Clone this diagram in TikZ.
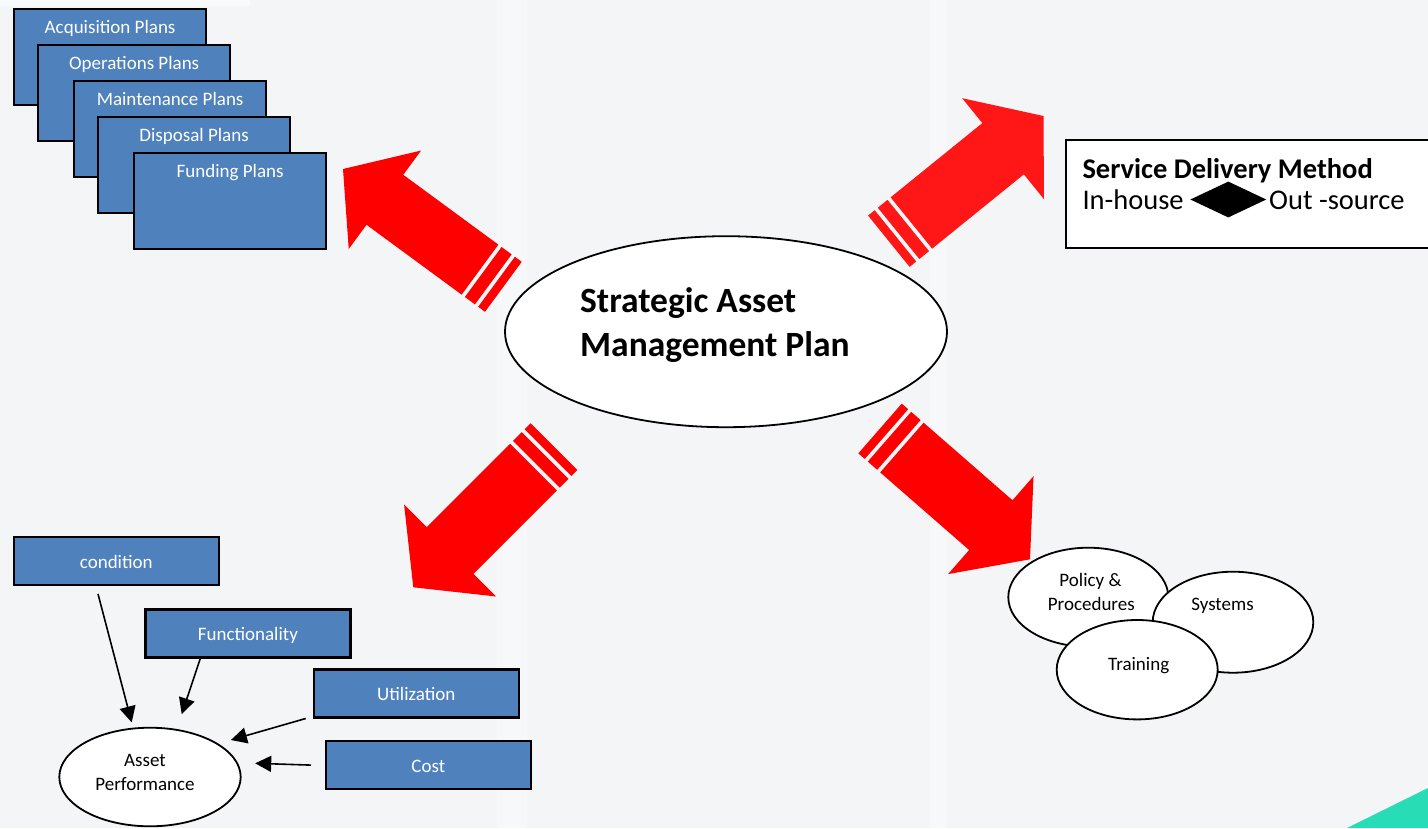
\documentclass[tikz,border=0pt]{standalone}
\usepackage{fontspec}
\setmainfont{Carlito}
\usetikzlibrary{arrows.meta,shapes.geometric}
\definecolor{bgcol}{RGB}{243,245,247}
\definecolor{boxblue}{RGB}{79,129,189}
\definecolor{arrowred}{RGB}{255,0,0}
\definecolor{arrowred2}{RGB}{255,22,22}
\definecolor{teal}{RGB}{40,221,181}
\begin{document}
\begin{tikzpicture}[x=1pt,y=-1pt,
  planbox/.style={draw=black, line width=2.2pt, fill=boxblue, inner sep=0,
    minimum width=192pt, minimum height=96pt, anchor=north west},
  ptext/.style={text=white, font=\fontsize{19}{23}\selectfont, inner sep=0, anchor=base},
  smallbox/.style={draw=black, line width=2.2pt, fill=boxblue, inner sep=0,
    minimum width=205pt, minimum height=48pt, anchor=north west,
    text=white, font=\fontsize{19}{23}\selectfont, text height=14pt, text depth=0pt},
  oval/.style={ellipse, draw=black, line width=1.8pt, fill=white, inner sep=0},
  otext/.style={font=\fontsize{19}{23}\selectfont, inner sep=0, anchor=base},
  pa/.style={line width=1.6pt, -{Triangle[length=16pt,width=16pt]}},
  redarrow/.pic={
    \fill[pic actions] (0,0) -- (-52,65) -- (-52,33) -- (-170,33) -- (-170,-33)
      -- (-52,-33) -- (-52,-65) -- cycle;
    \fill[pic actions] (-174,33) rectangle (-186.5,-33);
    \fill[pic actions] (-190.5,33) rectangle (-199,-33);
  }
]
\useasboundingbox (0,0) rectangle (1428,828);
% background
\fill[bgcol] (0,0) rectangle (1428,828);
\fill[white, opacity=0.3] (497,0) rectangle (527,828);
\fill[white, opacity=0.3] (930,0) rectangle (947,828);
\fill[white, opacity=0.5] (0,0) rectangle (250,6);
\fill[teal] (1347,828) -- (1428,788) -- (1428,828) -- cycle;

% stacked plan boxes
\node[planbox] (acq) at (13,8) {};
\node[ptext] at ([yshift=-25pt]acq.north) {Acquisition Plans};
\node[planbox] (ops) at (37,44) {};
\node[ptext] at ([yshift=-25pt]ops.north) {Operations Plans};
\node[planbox] (mnt) at (73,80) {};
\node[ptext] at ([yshift=-25pt]mnt.north) {Maintenance Plans};
\node[planbox] (dsp) at (97,116) {};
\node[ptext] at ([yshift=-25pt]dsp.north) {Disposal Plans};
\node[planbox] (fnd) at (133,152) {};
\node[ptext] at ([yshift=-25pt]fnd.north) {Funding Plans};

% red block arrows
\pic[fill=arrowred, rotate=143.7, yscale=0.94] at (343,169) {redarrow};
\pic[fill=arrowred2, rotate=39] at (1043.5,116) {redarrow};
\pic[fill=arrowred, rotate=225] at (413.3,587.3) {redarrow};
\pic[fill=arrowred, rotate=-41.1] at (1030,559.3) {redarrow};

% central ellipse
\node[oval, minimum width=442pt, minimum height=191pt] (samp) at (726,331.7) {};
\node[font=\fontsize{35.5}{44}\selectfont\bfseries, inner sep=0, anchor=base west] (t1) at (580,312.7) {Strategic Asset};
\node[font=\fontsize{35.5}{44}\selectfont\bfseries, inner sep=0, anchor=base west] (t2) at (580,356.7) {Management Plan};

% service delivery method
\node[draw=black, line width=2pt, fill=white, inner sep=0, minimum width=380pt,
  minimum height=108pt, anchor=north west] (sdm) at (1065,139.3) {};
\node[font=\fontsize{28.5}{34}\selectfont\bfseries, inner sep=0, anchor=base west] (sdmt) at (1082.3,178.3) {Service Delivery Method};
\node[font=\fontsize{28.5}{34}\selectfont, inner sep=0, anchor=base west] (inh) at (1082.3,209) {In-house};
\node[diamond, fill=black, inner sep=0, minimum width=76pt, minimum height=36pt] (dia) at (1228.3,199.5) {};
\node[font=\fontsize{28.5}{34}\selectfont, inner sep=0, anchor=base west] (outs) at (1269,209) {Out -source};

% policy / systems / training
\node[oval, minimum width=160pt, minimum height=99pt] (pol) at (1088.3,597.2) {};
\node[oval, minimum width=160.6pt, minimum height=101pt] (sys) at (1233,622.2) {};
\node[oval, minimum width=161pt, minimum height=99.4pt] (trn) at (1137.2,669.7) {};
\node[otext] at (1090.5,586.7) {Policy \&};
\node[otext] at (1091.3,610) {Procedures};
\node[otext] at (1222.5,610) {Systems};
\node[otext] at (1138.7,670) {Training};

% asset performance
\node[smallbox] (cond) at (12.7,536) {condition};
\node[smallbox] (func) at (144.3,608.3) {Functionality};
\node[smallbox] (util) at (312.7,668.3) {Utilization};
\node[smallbox, minimum width=204.5pt] (cost) at (325,740) {Cost};
\node[oval, minimum width=181.4pt, minimum height=98.6pt] (ap) at (150,777) {};
\node[otext] at (145,766) {Asset};
\node[otext] at (145,790) {Performance};

\draw[pa] ([xshift=-18.3pt,yshift=-7.7pt]cond.south) -- ([xshift=-18.3pt,yshift=4.4pt]ap.north);
\draw[pa] ([xshift=-47.6pt]func.south) -- ([xshift=31.7pt,yshift=12.7pt]ap.north);
\draw[pa] ([xshift=-7pt]util.south west) -- ([xshift=-10.7pt,yshift=37pt]ap.east);
\draw[pa] ([xshift=-14pt]cost.west) -- ([xshift=13.6pt,yshift=13.7pt]ap.east);
\end{tikzpicture}
\end{document}
